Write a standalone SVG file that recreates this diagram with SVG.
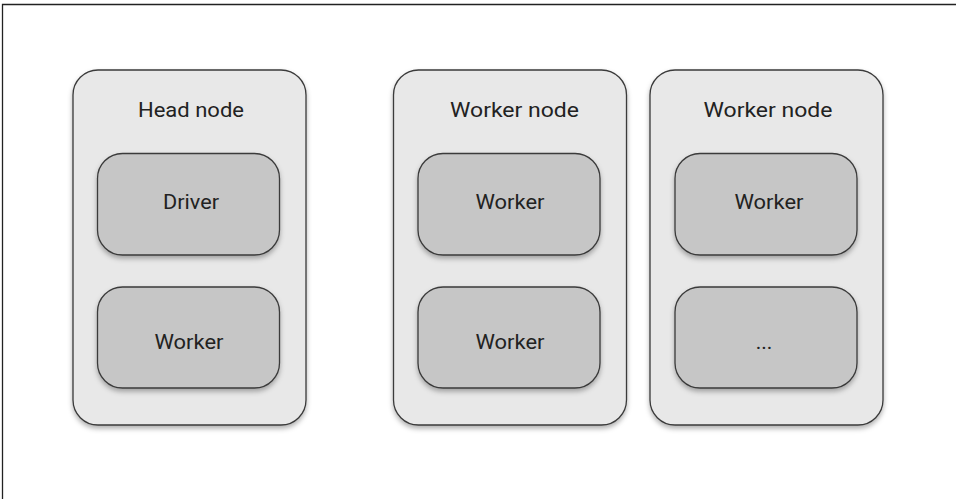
<svg xmlns="http://www.w3.org/2000/svg" width="956" height="499" viewBox="0 0 956 499">
  <defs>
    <filter id="shadow" x="-10%" y="-10%" width="120%" height="125%">
      <feDropShadow dx="0" dy="3" stdDeviation="2.5" flood-color="#000" flood-opacity="0.3"/>
    </filter>
    <style>
      .host { fill: #e8e8e8; stroke: #3a3a3a; stroke-width: 1.3; filter: url(#shadow); }
      .proc { fill: #c6c6c6; stroke: #3a3a3a; stroke-width: 1.3; filter: url(#shadow); }
      .label { font-family: Roboto, "Liberation Sans", sans-serif; font-size: 21px; fill: #222; text-anchor: middle; }
      .frame { fill: none; stroke: #222; stroke-width: 1.3; }
    </style>
  </defs>

  <rect x="0" y="0" width="956" height="499" fill="#fff"/>
  <path class="frame" d="M2.5,499 V4.5 H956"/>

  <g id="head-node">
    <rect class="host" x="73" y="70" width="233" height="355" rx="25" ry="25"/>
    <text class="label" x="191" y="117" textLength="106" lengthAdjust="spacingAndGlyphs">Head node</text>
    <g id="driver">
      <rect class="proc" x="97.5" y="153.5" width="182" height="101.5" rx="25" ry="25"/>
      <text class="label" x="191" y="208.5" textLength="56" lengthAdjust="spacingAndGlyphs">Driver</text>
    </g>
    <g id="head-worker">
      <rect class="proc" x="97.5" y="287" width="182" height="101" rx="25" ry="25"/>
      <text class="label" x="189" y="348.5" textLength="69" lengthAdjust="spacingAndGlyphs">Worker</text>
    </g>
  </g>

  <g id="worker-node-1">
    <rect class="host" x="393.5" y="70" width="233" height="355" rx="25" ry="25"/>
    <text class="label" x="514.5" y="117" textLength="129" lengthAdjust="spacingAndGlyphs">Worker node</text>
    <g id="worker-1a">
      <rect class="proc" x="418" y="153.5" width="182" height="101.5" rx="25" ry="25"/>
      <text class="label" x="510" y="208.5" textLength="69" lengthAdjust="spacingAndGlyphs">Worker</text>
    </g>
    <g id="worker-1b">
      <rect class="proc" x="418" y="287" width="182" height="101" rx="25" ry="25"/>
      <text class="label" x="510" y="348.5" textLength="69" lengthAdjust="spacingAndGlyphs">Worker</text>
    </g>
  </g>

  <g id="worker-node-2">
    <rect class="host" x="650" y="70" width="233" height="355" rx="25" ry="25"/>
    <text class="label" x="768" y="117" textLength="129" lengthAdjust="spacingAndGlyphs">Worker node</text>
    <g id="worker-2a">
      <rect class="proc" x="675" y="153.5" width="182" height="101.5" rx="25" ry="25"/>
      <text class="label" x="769" y="208.5" textLength="69" lengthAdjust="spacingAndGlyphs">Worker</text>
    </g>
    <g id="worker-2b">
      <rect class="proc" x="675" y="287" width="182" height="101" rx="25" ry="25"/>
      <text class="label" x="764" y="348.5">...</text>
    </g>
  </g>

  <g id="connectors"/>
</svg>
